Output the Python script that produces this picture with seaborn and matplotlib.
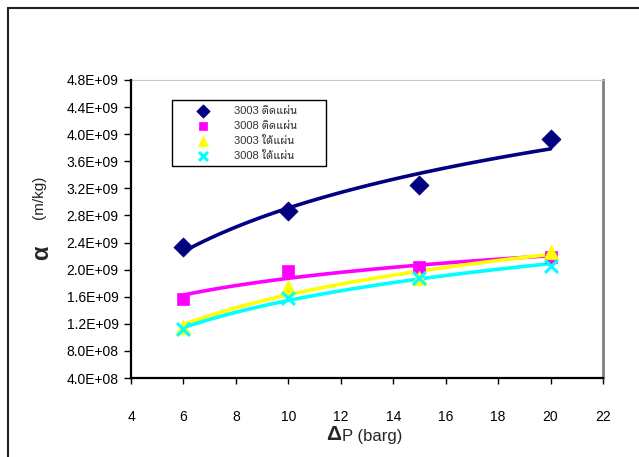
import matplotlib
matplotlib.use("Agg")
import matplotlib.pyplot as plt
from matplotlib.lines import Line2D
from matplotlib.ticker import FuncFormatter, MultipleLocator
import numpy as np
import pandas as pd
import seaborn as sns

# Pressure drop (barg)
pressure = [6, 10, 15, 20]

# Specific cake resistance alpha (m/kg) for each condition
alpha_3003_top = [2.33e9, 2.87e9, 3.25e9, 3.93e9]
alpha_3008_top = [1.57e9, 1.98e9, 2.04e9, 2.18e9]
alpha_3003_bottom = [1.15e9, 1.74e9, 1.87e9, 2.26e9]
alpha_3008_bottom = [1.12e9, 1.58e9, 1.88e9, 2.06e9]

series_names = ["3003 ติดแผ่น", "3008 ติดแผ่น", "3003 ใต้แผ่น", "3008 ใต้แผ่น"]
series_values = [alpha_3003_top, alpha_3008_top, alpha_3003_bottom, alpha_3008_bottom]
colors = ["#000080", "#FF00FF", "#FFFF00", "#00FFFF"]
markers = ["D", "s", "^", "x"]
marker_sizes = [95, 85, 110, 85]

x_ticks = [4, 6, 8, 10, 12, 14, 16, 18, 20, 22]

sns.set_style("ticks")
plt.rcParams["font.family"] = ["Liberation Sans", "Noto Sans Thai Looped"]

W, H = 639, 457
fig = plt.figure(figsize=(W / 100, H / 100), dpi=100)
fig.patch.set_facecolor("white")

left, right, top, bottom = 131, 603, 80, 378
ax = fig.add_axes([left / W, 1 - bottom / H, (right - left) / W, (bottom - top) / H])
ax.set_facecolor("white")

df = pd.DataFrame({
    "dp": np.tile(pressure, len(series_names)),
    "alpha": np.concatenate(series_values),
    "series": np.repeat(series_names, len(pressure)),
})

# Logarithmic trend lines, then the measured points
for name, col in zip(series_names, colors):
    sub = df[df["series"] == name]
    sns.regplot(data=sub, x="dp", y="alpha", logx=True, ci=None, scatter=False,
                ax=ax, color=col, line_kws={"lw": 2.6, "solid_capstyle": "round"})

for name, col, mk, ms in zip(series_names, colors, markers, marker_sizes):
    sub = df[df["series"] == name]
    kw = {"linewidth": 2.2} if mk == "x" else {"edgecolor": col, "linewidth": 0.5}
    sns.scatterplot(data=sub, x="dp", y="alpha", ax=ax, color=col, marker=mk,
                    s=ms, label=name, zorder=4, **kw)

ax.set_xlim(4, 22)
ax.set_ylim(4e8, 4.8e9)
ax.set_xticks(x_ticks)
ax.yaxis.set_major_locator(MultipleLocator(4e8))
ax.yaxis.set_major_formatter(FuncFormatter(lambda v, p: f"{v:.1E}"))
ax.tick_params(axis="both", direction="out", length=5, width=1, colors="black",
               labelsize=10, pad=4)
ax.tick_params(axis="x", length=4, pad=19)
ax.set_xlabel("")
ax.set_ylabel("")

for side in ["left", "bottom"]:
    ax.spines[side].set_color("black")
    ax.spines[side].set_linewidth(1.6)
ax.spines["top"].set_color("#c8c8c8")
ax.spines["top"].set_linewidth(0.8)
ax.spines["right"].set_color("#808080")
ax.spines["right"].set_linewidth(2)
ax.spines["left"].set_zorder(5)
ax.spines["bottom"].set_zorder(5)

lx0 = (172 - left) / (right - left)
ly0 = (bottom - 100) / (bottom - top)
lw_ = (326 - 172) / (right - left)
leg = ax.legend(loc="upper left", bbox_to_anchor=(lx0, ly0, lw_, 0), mode="expand",
                frameon=True, fancybox=False, framealpha=1, edgecolor="black",
                fontsize=8, borderpad=0.5, handletextpad=0.5, labelspacing=0.45,
                handlelength=4.6, borderaxespad=0, markerscale=0.7)
leg.get_frame().set_linewidth(1)
for t in leg.get_texts():
    t.set_color("#333333")

# Axis titles
fig.text(341 / W, 1 - 435 / H, "Δ", fontsize=15, fontweight="bold", ha="right", va="center")
fig.text(342 / W, 1 - 436 / H, "P (barg)", fontsize=12, ha="left", va="center")
fig.text(42 / W, 1 - 253 / H, "α", fontsize=17, fontweight="bold", rotation=90,
         ha="center", va="center")
fig.text(39 / W, 1 - 197 / H, "(m/kg)", fontsize=11, rotation=90, ha="center", va="center")

# Outer chart frame
fig.add_artist(Line2D([8 / W, 8 / W], [1 - 8 / H, 0], transform=fig.transFigure,
                      color="#222222", lw=1.5))
fig.add_artist(Line2D([8 / W, 1], [1 - 8 / H, 1 - 8 / H], transform=fig.transFigure,
                      color="#222222", lw=1.5))

fig.savefig("out.png", dpi=100, facecolor="white")
